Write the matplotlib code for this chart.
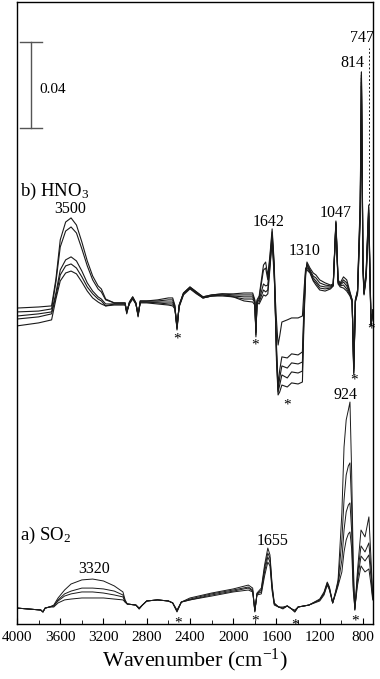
#!/usr/bin/env python

import matplotlib
matplotlib.use('Agg')
import matplotlib.pyplot as plt
from matplotlib.ticker import MultipleLocator

# b) HNO3 spectra (absorbance), five exposures
wn_b = [4000, 3800, 3680, 3640, 3600, 3550, 3500, 3450, 3400, 3350, 3300, 3250, 3220, 3180,
        3100, 3000, 2985, 2960, 2930, 2900, 2880, 2860, 2800, 2700, 2600, 2560, 2540, 2520,
        2500, 2460, 2400, 2340, 2280, 2200, 2100, 2000, 1900, 1820, 1800, 1790, 1780, 1760,
        1720, 1700, 1680, 1660, 1640, 1620, 1600, 1585, 1570, 1550, 1500, 1460, 1400, 1360,
        1345, 1330, 1318, 1290, 1260, 1235, 1200, 1150, 1100, 1075, 1050, 1030, 1010, 980,
        950, 920, 900, 885, 870, 850, 825, 816, 814, 812, 800, 790, 770, 747, 735, 725, 707]
hno3_1 = [.1469, .1474, .1479, .1604, .1786, .1869, .1888, .1855, .1776, .1688, .1618, .1572, .1558, .1511,
          .1493, .1493, .1442, .1497, .1521, .1493, .1428, .1502, .1502, .1507, .1516, .1516, .1483, .1367,
          .1483, .1539, .1567, .1544, .1521, .1530, .1535, .1535, .1539, .1539, .1507, .1335, .1507, .1525,
          .1669, .1683, .1618, .1716, .1837, .1669, .1228, .1065, .1079, .1111, .1102, .1121, .1116, .1125,
          .1414, .1623, .1683, .1655, .1632, .1623, .1600, .1586, .1576, .1581, .1874, .1600, .1586, .1614,
          .1600, .1544, .1507, .1158, .1507, .1553, .1972, .2460, .2567, .2460, .1693, .1539, .1646, .1948,
          .1646, .1390, .1460]
hno3_2 = [.1451, .1455, .1465, .1590, .1753, .1827, .1846, .1818, .1744, .1665, .1600, .1558, .1544, .1507,
          .1493, .1493, .1446, .1497, .1521, .1493, .1432, .1502, .1502, .1502, .1507, .1507, .1479, .1372,
          .1483, .1539, .1567, .1544, .1521, .1530, .1535, .1530, .1530, .1530, .1502, .1344, .1502, .1516,
          .1646, .1655, .1600, .1702, .1823, .1655, .1251, .1079, .1111, .1158, .1144, .1172, .1167, .1176,
          .1437, .1632, .1674, .1646, .1618, .1609, .1586, .1576, .1572, .1576, .1869, .1595, .1581, .1600,
          .1586, .1539, .1507, .1167, .1507, .1548, .1948, .2440, .2553, .2440, .1683, .1539, .1637, .1939,
          .1637, .1390, .1460]
hno3_3 = [.1432, .1442, .1451, .1539, .1646, .1693, .1707, .1688, .1641, .1586, .1548, .1521, .1511, .1488,
          .1488, .1488, .1451, .1493, .1516, .1488, .1437, .1497, .1497, .1497, .1497, .1497, .1474, .1376,
          .1479, .1535, .1562, .1539, .1516, .1525, .1530, .1525, .1521, .1521, .1497, .1353, .1497, .1507,
          .1581, .1572, .1576, .1683, .1804, .1637, .1274, .1088, .1144, .1200, .1190, .1214, .1209, .1218,
          .1460, .1641, .1665, .1641, .1609, .1595, .1572, .1567, .1567, .1576, .1865, .1590, .1576, .1590,
          .1572, .1535, .1502, .1176, .1502, .1544, .1925, .2420, .2539, .2420, .1669, .1535, .1628, .1925,
          .1623, .1390, .1460]
hno3_4 = [.1418, .1428, .1442, .1525, .1623, .1665, .1674, .1655, .1614, .1567, .1535, .1511, .1502, .1479,
          .1488, .1488, .1451, .1493, .1516, .1488, .1437, .1497, .1497, .1493, .1488, .1488, .1469, .1381,
          .1479, .1535, .1562, .1539, .1516, .1525, .1530, .1521, .1511, .1511, .1493, .1358, .1497, .1497,
          .1553, .1544, .1553, .1669, .1795, .1623, .1297, .1111, .1181, .1242, .1237, .1256, .1251, .1265,
          .1483, .1646, .1655, .1637, .1600, .1586, .1562, .1558, .1562, .1572, .1860, .1586, .1572, .1576,
          .1558, .1530, .1502, .1186, .1502, .1539, .1902, .2400, .2520, .2400, .1655, .1535, .1618, .1911,
          .1614, .1390, .1460]
hno3_5 = [.1386, .1400, .1414, .1511, .1595, .1632, .1641, .1628, .1590, .1548, .1516, .1497, .1488, .1479,
          .1483, .1483, .1455, .1488, .1511, .1488, .1442, .1493, .1493, .1488, .1483, .1479, .1465, .1386,
          .1474, .1530, .1558, .1535, .1516, .1525, .1525, .1521, .1502, .1497, .1483, .1367, .1493, .1488,
          .1530, .1525, .1535, .1655, .1786, .1600, .1414, .1297, .1339, .1404, .1414, .1423, .1423, .1432,
          .1553, .1655, .1646, .1632, .1595, .1576, .1553, .1548, .1558, .1572, .1855, .1581, .1567, .1562,
          .1548, .1525, .1497, .1195, .1497, .1535, .1879, .2380, .2502, .2380, .1646, .1530, .1609, .1897,
          .1600, .1390, .1460]

# a) SO2 spectra (absorbance), four exposures
wn_a = [4000, 3900, 3780, 3760, 3740, 3700, 3660, 3620, 3560, 3500, 3400, 3300, 3200, 3100,
        3020, 3000, 2980, 2900, 2870, 2840, 2800, 2700, 2600, 2560, 2520, 2480, 2400, 2200,
        2000, 1860, 1820, 1800, 1780, 1740, 1710, 1680, 1660, 1640, 1620, 1580, 1540, 1500,
        1460, 1430, 1400, 1300, 1200, 1160, 1130, 1110, 1080, 1050, 1030, 995, 975, 955,
        935, 920, 905, 890, 875, 850, 818, 781, 745, 725, 710]
so2_1 = [.0074, .0070, .0065, .0056, .0074, .0079, .0088, .0121, .0158, .0186, .0205, .0209, .0200, .0177,
         .0149, .0112, .0093, .0088, .0070, .0088, .0107, .0112, .0107, .0098, .0056, .0102, .0121, .0144,
         .0163, .0181, .0167, .0056, .0144, .0167, .0274, .0353, .0321, .0181, .0098, .0079, .0074, .0084,
         .0070, .0056, .0079, .0088, .0116, .0149, .0195, .0172, .0098, .0158, .0205, .0516, .0823, .0949,
         .0995, .1032, .0716, .0298, .0065, .0251, .0437, .0405, .0498, .0298, .0135]
so2_2 = [.0074, .0070, .0065, .0056, .0074, .0079, .0084, .0112, .0140, .0153, .0167, .0167, .0163, .0153,
         .0135, .0107, .0093, .0088, .0070, .0088, .0107, .0112, .0107, .0098, .0060, .0102, .0116, .0140,
         .0158, .0172, .0158, .0060, .0140, .0158, .0260, .0330, .0307, .0172, .0093, .0079, .0070, .0084,
         .0070, .0060, .0079, .0088, .0112, .0144, .0191, .0167, .0098, .0153, .0195, .0391, .0577, .0693,
         .0735, .0749, .0553, .0228, .0065, .0228, .0363, .0335, .0377, .0251, .0126]
so2_3 = [.0074, .0070, .0065, .0056, .0074, .0079, .0084, .0107, .0130, .0140, .0149, .0149, .0144, .0135,
         .0126, .0102, .0093, .0088, .0074, .0088, .0107, .0112, .0107, .0098, .0060, .0102, .0112, .0135,
         .0153, .0167, .0153, .0060, .0140, .0149, .0242, .0312, .0288, .0163, .0093, .0079, .0079, .0084,
         .0070, .0056, .0079, .0088, .0112, .0140, .0186, .0163, .0098, .0149, .0186, .0298, .0437, .0521,
         .0553, .0563, .0437, .0181, .0070, .0205, .0316, .0293, .0321, .0214, .0121]
so2_4 = [.0074, .0070, .0065, .0056, .0074, .0079, .0079, .0098, .0112, .0116, .0121, .0121, .0121, .0116,
         .0112, .0102, .0093, .0088, .0074, .0088, .0107, .0112, .0107, .0098, .0065, .0102, .0112, .0130,
         .0149, .0158, .0149, .0065, .0135, .0140, .0223, .0288, .0270, .0153, .0088, .0079, .0074, .0084,
         .0070, .0065, .0079, .0088, .0107, .0135, .0181, .0158, .0098, .0144, .0177, .0242, .0335, .0391,
         .0419, .0428, .0353, .0158, .0074, .0181, .0270, .0242, .0256, .0181, .0112]

# peak labels: (text, wavenumber, absorbance)
peak_labels = [('3500', 3510, .1911), ('1642', 1674, .1851), ('1310', 1336, .1716),
               ('1047', 1054, .1893), ('814', 897, .2590), ('747', 809, .2706),
               ('924', 957, .1046), ('3320', 3288, .0237), ('1655', 1637, .0367)]
# asterisks marking artefact bands
stars_b = [(2520, .1325), (1795, .1297), (1503, .1018), (883, .1135), (726, .1372)]
stars_a = [(2511, .0005), (1799, .0014), (1429, -.0005), (874, .0014)]


def main():
    plt.rcParams['font.family'] = ['Liberation Serif', 'DejaVu Serif']
    plt.rcParams['mathtext.default'] = 'regular'
    plt.rcParams['path.simplify'] = False

    fig = plt.figure(figsize=(3.8, 6.79), dpi=100)
    ax = fig.add_axes([17 / 380, 55 / 679, 356 / 380, 622 / 679])

    lc = '#1a1a1a'
    for y in (hno3_1, hno3_2, hno3_3, hno3_4, hno3_5):
        ax.plot(wn_b, y, color=lc, lw=0.8)
    for y in (so2_1, so2_2, so2_3, so2_4):
        ax.plot(wn_a, y, color=lc, lw=0.7)

    # dashed guide for the 747 band
    ax.plot([747, 747], [.1948, .2678], color=lc, lw=0.7, ls=(0, (2, 2)))

    # 0.04 scale bar
    bc = '#555555'
    ax.plot([3871, 3871], [.2306, .2706], color=bc, lw=1.0)
    ax.plot([3972, 3769], [.2706, .2706], color=bc, lw=1.0)
    ax.plot([3972, 3769], [.2306, .2306], color=bc, lw=1.0)
    ax.text(3797, .2483, '0.04', fontsize=11, ha='left', va='center')

    ax.text(3972, .1990, 'b) HNO$_3$', fontsize=13.5, ha='left', va='baseline')
    ax.text(3972, .0391, 'a) SO$_2$', fontsize=13.5, ha='left', va='baseline')

    for txt, x, y in peak_labels:
        ax.text(x, y, txt, fontsize=11.5, ha='center', va='baseline')
    for x, y in stars_b + stars_a:
        ax.text(x, y, '*', fontsize=11, ha='center', va='center', clip_on=False)

    ax.set_xlim(4000, 707)
    ax.set_ylim(0, 0.2892)
    ax.set_yticks([])
    ax.xaxis.set_major_locator(MultipleLocator(400))
    ax.xaxis.set_minor_locator(MultipleLocator(200))
    ax.tick_params(axis='x', which='both', direction='in', labelsize=11, pad=5)
    ax.tick_params(axis='x', which='major', length=4)
    ax.tick_params(axis='x', which='minor', length=3)
    for s in ax.spines.values():
        s.set_linewidth(1.0)
    ax.set_xlabel('Wavenumber (cm$^{-1}$)', fontsize=16, labelpad=2)

    fig.savefig('out.png', dpi=100)


if __name__ == '__main__':
    main()
